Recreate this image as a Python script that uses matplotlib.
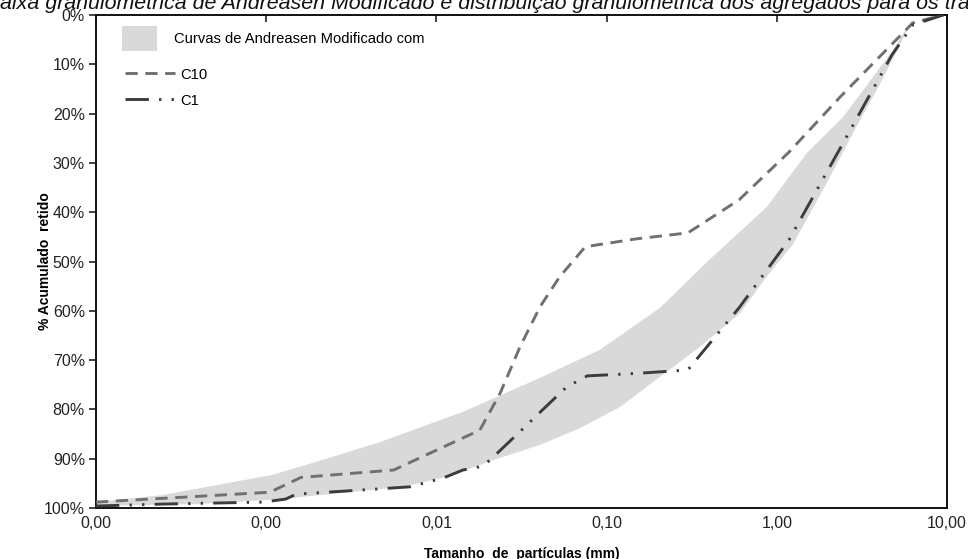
import numpy as np
import matplotlib
matplotlib.use("Agg")
import matplotlib.pyplot as plt
from matplotlib.patches import Patch, Rectangle
from matplotlib.legend_handler import HandlerPatch
from matplotlib.ticker import FixedLocator, FuncFormatter, NullLocator

plt.rcParams['font.family'] = ['Liberation Sans', 'DejaVu Sans']

# tamanhos (mm) e % acumulado retido
size_c10 = [0.0001, 0.00033, 0.00105, 0.0016, 0.0056, 0.018, 0.0237, 0.031, 0.0406,
            0.053, 0.075, 0.15, 0.3, 0.6, 1.18, 2.36, 4.75, 6.3, 9.5]
ret_c10 = [98.8, 97.8, 96.8, 93.8, 92.3, 84.2, 76.7, 67.3, 59.2,
           53.1, 47.0, 45.4, 44.2, 37.5, 27.8, 16.6, 5.9, 1.6, 0.0]

size_c1 = [0.0001, 0.00025, 0.00096, 0.0013, 0.0015, 0.0047, 0.007, 0.011, 0.0143,
           0.0188, 0.0215, 0.033, 0.042, 0.058, 0.077, 0.15, 0.3, 0.6, 1.18,
           2.36, 4.75, 6.3, 9.5]
ret_c1 = [99.6, 99.2, 98.8, 98.2, 97.2, 96.1, 95.7, 93.9, 92.3,
          91.5, 89.7, 83.6, 80.1, 75.5, 73.2, 72.7, 72.0, 59.4, 45.6,
          27.0, 8.1, 2.0, 0.0]

# faixa de Andreasen modificado (limites)
band_size_upper = [0.0001, 0.000244, 0.00108, 0.00194, 0.0047, 0.0143, 0.0406, 0.0915,
                   0.206, 0.389, 0.875, 1.5, 2.45, 3.67, 4.82, 6.3]
band_upper = [98.8, 97.4, 93.3, 90.7, 86.6, 80.5, 73.6, 67.9,
              59.4, 50.1, 38.9, 28.0, 20.7, 12.6, 7.1, 0.6]
band_size_lower = [0.0001, 0.00041, 0.0012, 0.0064, 0.012, 0.0215, 0.0406, 0.0698, 0.12,
                   0.354, 0.608, 0.875, 1.245, 1.97, 2.80, 4.04, 5.29, 6.3]
band_lower = [99.6, 99.2, 98.2, 95.7, 93.5, 90.3, 87.2, 83.8, 79.5,
              67.3, 60.5, 53.0, 46.5, 34.0, 24.0, 14.0, 6.0, 0.6]

x_ticks = [0.0001, 0.001, 0.01, 0.1, 1, 10]
y_ticks = [0, 10, 20, 30, 40, 50, 60, 70, 80, 90, 100]

c10_style = dict(color='#707070', lw=2.1, linestyle=(0, (4.2, 2.6)))
c1_style = dict(color='#3c3c3c', lw=2.1, linestyle=(0, (8, 3.5, 0.8, 3.5, 0.8, 3.5)))

fig = plt.figure(figsize=(9.68, 5.59), dpi=100)
ax = fig.add_axes([96 / 968, 1 - 508 / 559, 851 / 968, 493 / 559])

poly_x = np.concatenate([band_size_upper, band_size_lower[::-1]])
poly_y = np.concatenate([band_upper, band_lower[::-1]])
ax.fill(poly_x, poly_y, color='#d9d9d9', lw=0, zorder=1)

ax.plot(size_c10, ret_c10, zorder=3, **c10_style)
ax.plot(size_c1, ret_c1, zorder=3, **c1_style)

ax.set_xscale('log')
ax.set_xlim(0.0001, 10)
ax.set_ylim(100, 0)

ax.xaxis.set_major_locator(FixedLocator(x_ticks))
ax.xaxis.set_minor_locator(NullLocator())
ax.xaxis.set_major_formatter(FuncFormatter(lambda v, p: f"{v:.2f}".replace('.', ',')))
ax.yaxis.set_major_locator(FixedLocator(y_ticks))
ax.yaxis.set_major_formatter(FuncFormatter(lambda v, p: f"{v:.0f}%"))

ax.tick_params(axis='x', bottom=False, top=True, direction='in', length=5, width=1.2,
               labelbottom=True, labeltop=False, labelsize=11.5, pad=6, colors='#222222')
ax.tick_params(axis='y', direction='out', length=5, width=1.2, labelsize=11.5, pad=3,
               colors='#222222')
for s in ax.spines.values():
    s.set_linewidth(1.4)
    s.set_color('#111111')

ax.set_xlabel('Tamanho  de  partículas (mm)', fontsize=10, fontweight='bold', labelpad=11)
ax.set_ylabel('% Acumulado  retido', fontsize=10, fontweight='bold')
ax.yaxis.set_label_coords(-0.052, 0.5)

fig.text(0.0, 1 - 9 / 559,
         'aixa granulométrica de Andreasen Modificado e distribuição granulométrica dos agregados para os tra',
         fontsize=15.4, style='italic', ha='left', va='baseline', color='#111111')


def make_box(legend, orig_handle, xdescent, ydescent, width, height, fontsize):
    return Rectangle((-xdescent, -ydescent + height / 2 - 9), width, 18)


leg1 = ax.legend([Patch(facecolor='#d9d9d9', edgecolor='none')],
                 ['Curvas de Andreasen Modificado com'],
                 loc='upper left', bbox_to_anchor=(0.0306, 0.9665), frameon=False,
                 fontsize=10.6, handlelength=2.4, handleheight=1.0, handletextpad=1.1,
                 borderpad=0, borderaxespad=0,
                 handler_map={Patch: HandlerPatch(patch_func=make_box)})
ax.add_artist(leg1)

ax.legend([plt.Line2D([], [], **c10_style), plt.Line2D([], [], **c1_style)], ['C10', 'C1'],
          loc='upper left', bbox_to_anchor=(0.034, 0.8935), frameon=False,
          fontsize=10.6, handlelength=3.4, handleheight=1.0, labelspacing=0.75,
          handletextpad=0.35, borderpad=0, borderaxespad=0)

fig.savefig('out.png', dpi=100)
